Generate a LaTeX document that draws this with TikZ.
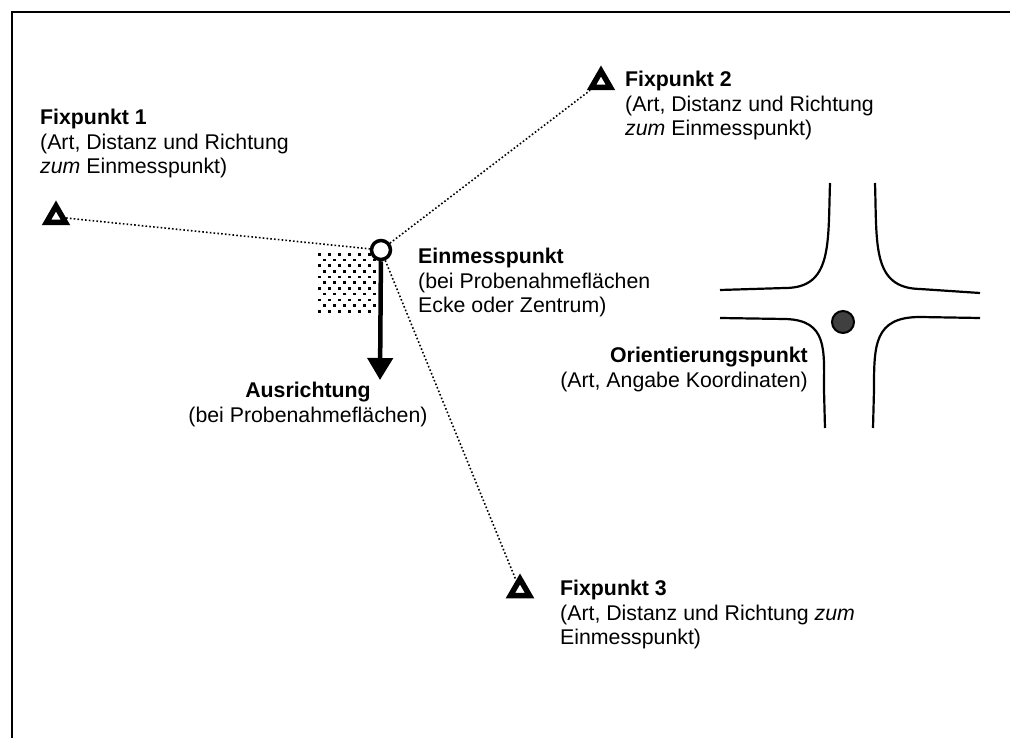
\documentclass[tikz,border=0pt]{standalone}
\usepackage{fontspec}
\setmainfont{Liberation Sans}
\usetikzlibrary{shapes.geometric, arrows.meta}
\tikzset{
  fix/.style={regular polygon, regular polygon sides=3, draw=black, fill=white, line width=5.5pt, minimum size=22pt, inner sep=0pt},
  mess/.style={circle, draw=black, fill=white, line width=3.5pt, minimum size=19pt, inner sep=0pt},
  orient/.style={circle, draw=black, fill=black!75, line width=2pt, minimum size=22pt, inner sep=0pt},
  lbl/.style={anchor=north west, align=left, inner sep=0pt, font=\fontsize{21.3}{24.5}\selectfont}
}
\tikzstyle{dotline} = [black, line width=1.6pt, dash pattern=on 1.6pt off 2.2pt]
\tikzstyle{road} = [black, line width=2.2pt]
\tikzstyle{arrow} = [black, line width=4.5pt, -{Triangle[width=25pt,length=22pt]}]

\begin{document}
\begin{tikzpicture}[x=1pt,y=-1pt]
    \useasboundingbox (0,0) rectangle (1010,738);
    \draw [line width=2pt] (12,738) -- (12,12) -- (1010,12);

    \foreach \i [evaluate=\i as \off using {5*mod(\i,2)}] in {0,...,10}
        \foreach \j in {0,...,5}
            \fill ({318+10*\j+\off},{253+5.7*\i}) rectangle +(2.6,2.6);

    \node [fix] (fp1) at (56,217) {};
    \node [fix] (fp2) at (601,82) {};
    \node [fix] (fp3) at (520,590) {};
    \node [mess] (em) at (381,250) {};
    \coordinate (dir) at (380,380);

    \draw [dotline] (fp1) -- (em);
    \draw [dotline] (em) -- (fp2);
    \draw [dotline] (em) -- (fp3);
    \draw [arrow] (em) -- (dir);

    \node [lbl] (fp1txt) at (40,109) {\textbf{Fixpunkt 1}\\(Art, Distanz und Richtung\\\textit{zum} Einmesspunkt)};
    \node [lbl] (fp2txt) at (625,71) {\textbf{Fixpunkt 2}\\(Art, Distanz und Richtung\\\textit{zum} Einmesspunkt)};
    \node [lbl] (emtxt) at (418,248) {\textbf{Einmesspunkt}\\(bei Probenahmeflächen\\Ecke oder Zentrum)};
    \node [lbl] (fp3txt) at (560,580) {\textbf{Fixpunkt 3}\\(Art, Distanz und Richtung \textit{zum}\\Einmesspunkt)};
    \node [lbl, anchor=north, align=center] (dirtxt) at (308,382) {\textbf{Ausrichtung}\\(bei Probenahmeflächen)};
    \node [lbl, anchor=north east, align=right] (optxt) at (808,347) {\textbf{Orientierungspunkt}\\(Art, Angabe Koordinaten)};

    \draw [road] (830,183) .. controls (828,245) and (832,288) .. (785,288) -- (720,290);
    \draw [road] (875,183) .. controls (877,245) and (872,288) .. (920,289) -- (980,293);
    \draw [road] (720,318) -- (785,319) .. controls (828,320) and (824,350) .. (824,390) -- (825,428);
    \draw [road] (980,318) -- (920,317) .. controls (874,317) and (874,345) .. (874,390) -- (873,428);
    \node [orient] (op) at (843,322) {};
\end{tikzpicture}
\end{document}
